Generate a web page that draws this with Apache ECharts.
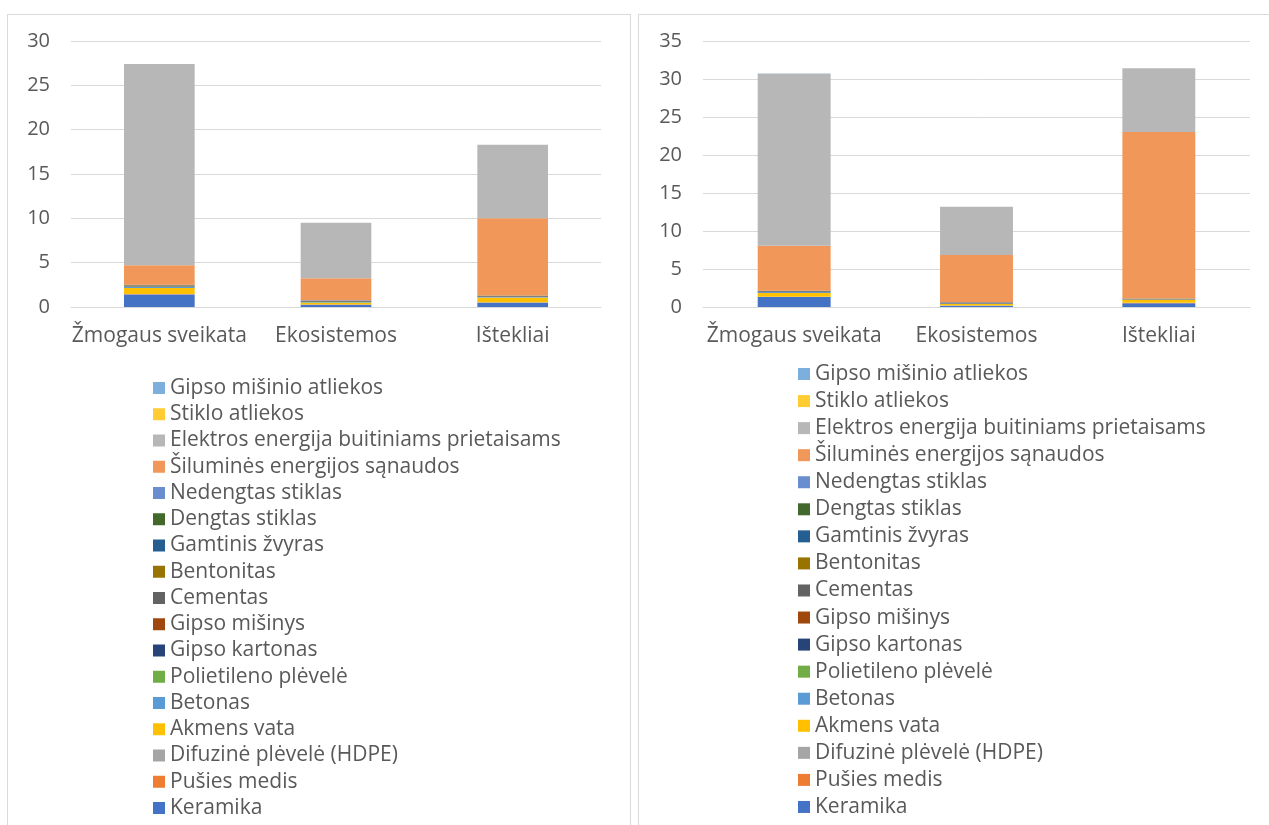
<!DOCTYPE html>
<html lang="lt">
<head>
<meta charset="utf-8">
<title>Poveikis</title>
<script src="https://cdn.jsdelivr.net/npm/echarts@6/dist/echarts.min.js"></script>
<style>
  body { margin: 0; background: #fff; }
  .panel { position: absolute; top: 14px; height: 830px; border: 1px solid #d9d9d9; background: #fff; }
  #left { left: 7px; width: 622px; }
  #right { left: 638px; width: 640px; }
</style>
</head>
<body>
<div id="left" class="panel"></div>
<div id="right" class="panel"></div>
<script>
// kategorijos
var categories = ['Žmogaus sveikata', 'Ekosistemos', 'Ištekliai'];

// serijos nuo apačios į viršų
var seriesNames = [
  'Keramika', 'Pušies medis', 'Difuzinė plėvelė (HDPE)', 'Akmens vata', 'Betonas',
  'Polietileno plėvelė', 'Gipso kartonas', 'Gipso mišinys', 'Cementas', 'Bentonitas',
  'Gamtinis žvyras', 'Dengtas stiklas', 'Nedengtas stiklas',
  'Šiluminės energijos sąnaudos', 'Elektros energija buitiniams prietaisams',
  'Stiklo atliekos', 'Gipso mišinio atliekos'
];
var colors = [
  '#4472C4', '#ED7D31', '#A5A5A5', '#FFC000', '#5B9BD5',
  '#70AD47', '#264478', '#9E480E', '#636363', '#997300',
  '#255E91', '#43682B', '#698ED0',
  '#F1975A', '#B7B7B7', '#FFCD33', '#7CAFDD'
];

// kairė diagrama
var leftValues = [
  [1.40, 0.25, 0.48],
  [0.04, 0.02, 0.03],
  [0.02, 0.02, 0.02],
  [0.68, 0.20, 0.55],
  [0.12, 0.05, 0.05],
  [0.02, 0.01, 0.01],
  [0.03, 0.02, 0.02],
  [0.02, 0.01, 0.01],
  [0.10, 0.12, 0.08],
  [0.01, 0.01, 0.01],
  [0.01, 0.01, 0.01],
  [0.05, 0.02, 0.02],
  [0.02, 0.01, 0.01],
  [2.20, 2.50, 8.70],
  [22.68, 6.25, 8.30],
  [0.004, 0.004, 0.004],
  [0.004, 0.004, 0.004]
];

// dešinė diagrama
var rightValues = [
  [1.30, 0.15, 0.50],
  [0.03, 0.02, 0.03],
  [0.02, 0.02, 0.02],
  [0.50, 0.20, 0.38],
  [0.08, 0.04, 0.04],
  [0.02, 0.01, 0.01],
  [0.02, 0.02, 0.02],
  [0.02, 0.01, 0.01],
  [0.08, 0.12, 0.06],
  [0.01, 0.01, 0.01],
  [0.01, 0.01, 0.01],
  [0.04, 0.02, 0.02],
  [0.02, 0.01, 0.01],
  [5.90, 6.20, 21.90],
  [22.65, 6.35, 8.40],
  [0.004, 0.004, 0.004],
  [0.004, 0.004, 0.004]
];

var FONT = 'Open Sans';
var TXT = '#595959';

function makeOption(values, yMax, gridLeft, gridWidth, legendLeft, legendTop, legendGap) {
  var series = seriesNames.map(function (name, i) {
    return {
      name: name,
      type: 'bar',
      stack: 'total',
      barWidth: '40%',
      itemStyle: { color: colors[i] },
      data: values[i]
    };
  });
  return {
    animation: false,
    textStyle: { fontFamily: FONT },
    grid: { left: gridLeft, top: 26, width: gridWidth, height: 266 },
    xAxis: {
      type: 'category',
      data: categories,
      axisLine: { lineStyle: { color: '#d9d9d9' } },
      axisTick: { show: false },
      axisLabel: { color: TXT, fontSize: 21, fontFamily: FONT, margin: 19, interval: 0 }
    },
    yAxis: {
      type: 'value',
      min: 0,
      max: yMax,
      interval: 5,
      axisLine: { show: false },
      axisTick: { show: false },
      splitLine: { lineStyle: { color: '#d9d9d9' } },
      axisLabel: { color: TXT, fontSize: 20, fontFamily: FONT, margin: 21 }
    },
    legend: {
      orient: 'vertical',
      left: legendLeft,
      top: legendTop,
      itemWidth: 12,
      itemHeight: 12,
      itemGap: legendGap,
      icon: 'rect',
      data: seriesNames.slice().reverse(),
      textStyle: { color: TXT, fontSize: 21, fontFamily: FONT, lineHeight: 22 }
    },
    series: series
  };
}

var leftChart = echarts.init(document.getElementById('left'));
leftChart.setOption(makeOption(leftValues, 30, 63, 530, 140, 357, 4.25));

var rightChart = echarts.init(document.getElementById('right'));
rightChart.setOption(makeOption(rightValues, 35, 64, 547, 154, 343, 5.06));
</script>
</body>
</html>
